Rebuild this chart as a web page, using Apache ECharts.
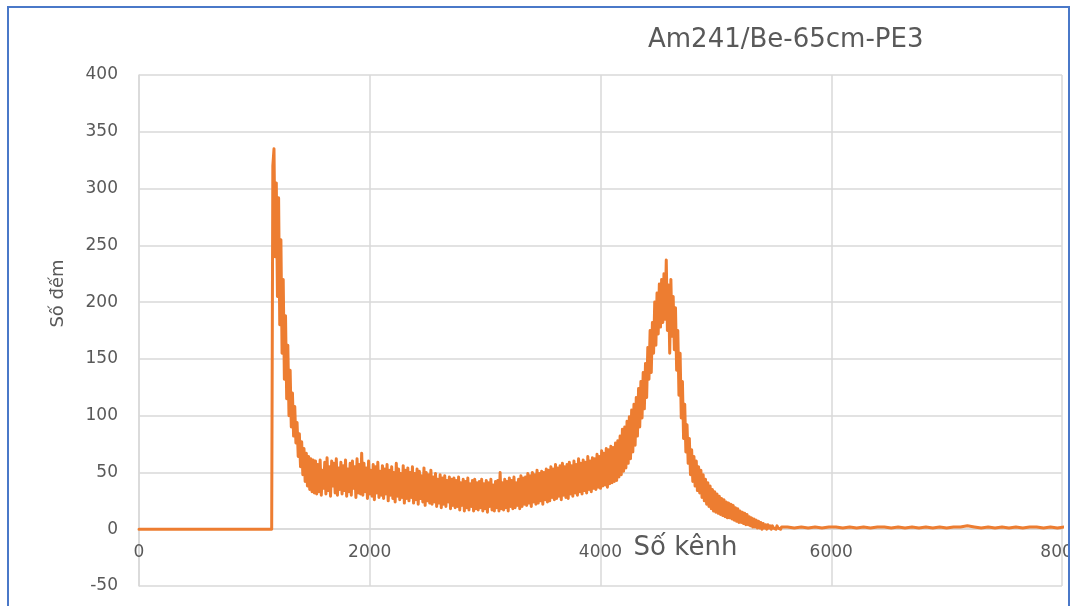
<!DOCTYPE html>
<html>
<head>
<meta charset="utf-8">
<script src="https://cdn.jsdelivr.net/npm/echarts@6/dist/echarts.min.js"></script>
<style>
  html, body { margin: 0; padding: 0; background: #fff; }
  #frame {
    position: absolute; left: 7px; top: 6px;
    width: 1059px; height: 640px;
    border: 2px solid #4a78c8;
    overflow: hidden;
  }
  #chart { position: absolute; left: -9px; top: -8px; width: 1100px; height: 606px; }
</style>
</head>
<body>
<div id="frame"><div id="chart"></div></div>
<script>
  // pho Am241/Be - 65cm PE3
  var titleText = 'Am241/Be-65cm-PE3';
  var xName = 'Số kênh';
  var yName = 'Số đếm';

  var xTicks = [0, 2000, 4000, 6000, 8000];
  var yTicks = [-50, 0, 50, 100, 150, 200, 250, 300, 350, 400];

  // duoi nguong: so dem = 0
  var zeroChannels = [0];

  // vung chinh: tu kenh 1150, buoc 10 kenh
  var mainStart = 1150;
  var mainStep = 10;
  var mainCounts = [
    0, 320, 335, 240, 305, 205, 292, 180, 255, 155, 220, 132, 188, 115, 162, 100, 140, 90, 120, 82,
    108, 76, 94, 64, 84, 55, 77, 48, 71, 42, 67, 38, 64, 35, 62, 33, 61, 32, 60, 31,
    57, 33, 61, 30, 52, 36, 59, 31, 63, 34, 55, 29, 60, 38, 58, 32, 62, 30, 54, 35,
    59, 31, 56, 34, 61, 29, 53, 33, 58, 30, 60, 36, 55, 28, 62, 32, 57, 31, 67, 30,
    58, 33, 54, 27, 60, 31, 52, 29, 57, 26, 55, 32, 59, 28, 51, 30, 56, 27, 53, 31,
    57, 25, 52, 30, 55, 27, 50, 24, 58, 29, 53, 26, 49, 28, 56, 23, 52, 27, 54, 25,
    50, 28, 55, 23, 49, 26, 53, 22, 51, 27, 47, 24, 54, 21, 50, 25, 48, 23, 52, 22,
    46, 24, 49, 20, 44, 23, 48, 19, 45, 22, 47, 20, 43, 24, 46, 18, 44, 21, 45, 19,
    43, 20, 46, 17, 41, 21, 44, 16, 42, 19, 45, 17, 40, 20, 43, 16, 44, 18, 41, 17,
    42, 19, 44, 16, 40, 18, 43, 15, 41, 20, 44, 17, 39, 16, 42, 19, 43, 16, 50, 18,
    41, 17, 44, 19, 42, 16, 45, 20, 43, 18, 46, 19, 41, 21, 44, 18, 47, 20, 45, 22,
    46, 21, 49, 23, 47, 20, 50, 24, 48, 22, 52, 23, 49, 25, 51, 22, 50, 26, 53, 24,
    52, 25, 55, 28, 53, 26, 57, 27, 54, 29, 56, 26, 58, 30, 55, 28, 57, 27, 59, 31,
    56, 29, 60, 32, 57, 30, 62, 33, 58, 31, 61, 34, 59, 32, 64, 35, 60, 33, 63, 36,
    62, 35, 66, 37, 64, 36, 69, 38, 67, 39, 71, 37, 70, 40, 73, 41, 72, 42, 76, 43,
    78, 46, 82, 48, 88, 51, 90, 54, 95, 58, 99, 62, 105, 68, 110, 74, 116, 82, 124, 90,
    130, 98, 138, 106, 146, 116, 160, 132, 175, 138, 182, 155, 200, 162, 208, 172, 216, 178, 220, 182,
    225, 185, 237, 175, 215, 155, 220, 170, 205, 158, 195, 140, 175, 118, 155, 98, 130, 80, 110, 68,
    92, 58, 80, 48, 70, 42, 64, 38, 60, 34, 55, 32, 52, 28, 48, 25, 44, 22, 41, 20,
    38, 18, 35, 16, 33, 15, 31, 14, 29, 13, 27, 12, 26, 11, 24, 10, 23, 10, 22, 9,
    21, 8, 19, 7, 18, 6, 16, 6, 15, 5, 14, 4, 13, 4, 11, 3, 10, 2, 9, 2,
    8, 1, 7, 1, 6, 0, 5, 1, 4, 0, 4, 1, 3, 0, 3, 1, 2, 0, 3, 1,
    2, 0, 2, 1, 2, 1
  ];

  // duoi pho: tu kenh 5620, buoc 60 kenh
  var tailStart = 5620;
  var tailStep = 60;
  var tailCounts = [
    2, 1, 2, 1, 2, 1, 2, 2, 1, 2,
    1, 2, 1, 2, 2, 1, 2, 1, 2, 1,
    2, 1, 2, 1, 2, 2, 3, 2, 1, 2,
    1, 2, 1, 2, 1, 2, 2, 1, 2, 1,
    2
  ];

  var seriesData = [];
  zeroChannels.forEach(function (ch) { seriesData.push([ch, 0]); });
  mainCounts.forEach(function (v, i) { seriesData.push([mainStart + i * mainStep, v]); });
  tailCounts.forEach(function (v, i) { seriesData.push([tailStart + i * tailStep, v]); });

  var grey = '#595959';
  var gridColor = '#d9d9d9';
  var font = '"DejaVu Sans", "Open Sans", sans-serif';

  var gridTop = 75, gridHeight = 511;
  var yMin = yTicks[0], yMax = yTicks[yTicks.length - 1];
  // truc x nam tai y = 0
  var xAxisOffset = -gridHeight * (0 - yMin) / (yMax - yMin);

  var myChart = echarts.init(document.getElementById('chart'));
  var option = {
    animation: false,
    backgroundColor: '#fff',
    title: {
      text: titleText,
      left: 643,
      top: 22,
      textStyle: { color: grey, fontFamily: font, fontSize: 26, fontWeight: 'normal' }
    },
    grid: {
      left: 139, top: gridTop, width: 923, height: gridHeight,
      containLabel: false, outerBoundsMode: 'none'
    },
    xAxis: {
      type: 'value',
      min: xTicks[0],
      max: xTicks[xTicks.length - 1],
      interval: xTicks[1] - xTicks[0],
      offset: xAxisOffset,
      name: xName,
      nameLocation: 'middle',
      nameGap: 6,
      nameMoveOverlap: false,
      nameTextStyle: { color: grey, fontFamily: font, fontSize: 26, padding: [0, 0, 0, 170] },
      axisLine: { onZero: false, lineStyle: { color: gridColor, width: 1.5 } },
      axisTick: { show: false },
      axisLabel: {
        color: grey, fontFamily: font, fontSize: 17, margin: 15,
        formatter: function (v) { return String(v); }
      },
      splitLine: { show: true, lineStyle: { color: gridColor, width: 1.5 } }
    },
    yAxis: {
      type: 'value',
      min: yMin,
      max: yMax,
      interval: yTicks[1] - yTicks[0],
      name: yName,
      nameLocation: 'middle',
      nameGap: 72,
      nameMoveOverlap: false,
      nameTextStyle: { color: grey, fontFamily: font, fontSize: 18, padding: [0, 0, 0, 74] },
      axisLine: { show: true, onZero: false, lineStyle: { color: gridColor, width: 1.5 } },
      axisTick: { show: false },
      axisLabel: {
        color: grey, fontFamily: font, fontSize: 17, margin: 21,
        formatter: function (v) { return String(v); }
      },
      splitLine: { show: true, lineStyle: { color: gridColor, width: 1.5 } }
    },
    series: [{
      type: 'line',
      data: seriesData,
      showSymbol: false,
      symbol: 'none',
      sampling: null,
      lineStyle: { color: '#ED7D31', width: 3, join: 'round', cap: 'round' },
      itemStyle: { color: '#ED7D31' }
    }]
  };
  myChart.setOption(option);
</script>
</body>
</html>
